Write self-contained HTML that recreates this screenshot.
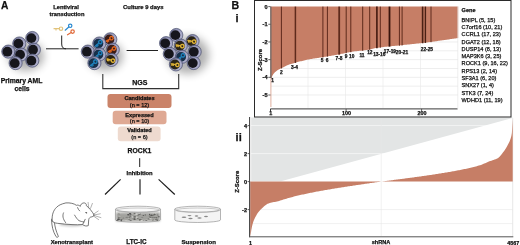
<!DOCTYPE html><html><head><meta charset="utf-8"><style>html,body{margin:0;padding:0;background:#fff;}svg{display:block;filter:blur(0.35px);} text{font-family:"Liberation Sans",sans-serif;stroke:#111;stroke-width:0.25px;}</style></head><body>
<svg width="520" height="245" viewBox="0 0 520 245">
<defs><radialGradient id="cg" cx="0.55" cy="0.55" r="0.6" fx="0.6" fy="0.6"><stop offset="0.55" stop-color="#acadca"/><stop offset="0.8" stop-color="#9294b6"/><stop offset="1" stop-color="#55597c"/></radialGradient><filter id="blur" x="-50%" y="-50%" width="200%" height="200%"><feGaussianBlur stdDeviation="4"/></filter><filter id="blur2" x="-50%" y="-50%" width="200%" height="200%"><feGaussianBlur stdDeviation="1.2"/></filter></defs>
<rect x="0" y="0" width="520" height="245" fill="#fff"/>
<text x="1" y="8.8" font-size="10.2" font-weight="bold" fill="#111">A</text>
<ellipse cx="26" cy="56" rx="18" ry="15" fill="#000" opacity="0.3" filter="url(#blur)"/>
<ellipse cx="105" cy="56" rx="18" ry="15" fill="#000" opacity="0.3" filter="url(#blur)"/>
<ellipse cx="188" cy="55" rx="21" ry="19" fill="#000" opacity="0.3" filter="url(#blur)"/>
<g stroke="#222" stroke-width="1" fill="none">
<path d="M46,48.8 L78.6,48.8"/>
<path d="M61.7,35.5 L61.7,44 Q61.7,48.8 66,48.8"/>
<path d="M126.6,50.5 L158,50.5"/>
<path d="M102.8,74 L102.8,88.6 L178.7,88.6 L178.7,74" stroke="#333" stroke-width="1.1"/>
</g>
<g fill="none" stroke-linecap="round" stroke-width="1.2">
<g stroke="#e2c47c"><line x1="54" y1="28.7" x2="59" y2="28.7"/><line x1="56" y1="28.7" x2="56" y2="30"/><circle cx="61" cy="28.7" r="1.7"/></g>
<g stroke="#2a8ad0"><line x1="65.2" y1="30.2" x2="68.8" y2="27"/><circle cx="70.2" cy="25.8" r="1.7"/></g>
<g stroke="#e06a3a"><line x1="67.5" y1="34.8" x2="71.2" y2="32.6"/><circle cx="72.6" cy="31.6" r="1.7"/></g>
</g>
<circle cx="32.3" cy="38" r="6.6" fill="url(#cg)" stroke="#4c5170" stroke-width="0.7"/><circle cx="31.4" cy="38.1" r="4.9" fill="#16161c"/>
<circle cx="19.3" cy="43.5" r="6.6" fill="url(#cg)" stroke="#4c5170" stroke-width="0.7"/><circle cx="18.4" cy="43.6" r="4.9" fill="#16161c"/>
<circle cx="33.9" cy="49.6" r="6.6" fill="url(#cg)" stroke="#4c5170" stroke-width="0.7"/><circle cx="33" cy="49.7" r="4.9" fill="#16161c"/>
<circle cx="8.3" cy="51.6" r="6.6" fill="url(#cg)" stroke="#4c5170" stroke-width="0.7"/><circle cx="7.4" cy="51.7" r="4.9" fill="#16161c"/>
<circle cx="21" cy="54.5" r="6.6" fill="url(#cg)" stroke="#4c5170" stroke-width="0.7"/><circle cx="20.1" cy="54.6" r="4.9" fill="#16161c"/>
<circle cx="32.3" cy="60.6" r="6.6" fill="url(#cg)" stroke="#4c5170" stroke-width="0.7"/><circle cx="31.4" cy="60.7" r="4.9" fill="#16161c"/>
<circle cx="15.6" cy="63.1" r="6.6" fill="url(#cg)" stroke="#4c5170" stroke-width="0.7"/><circle cx="14.7" cy="63.2" r="4.9" fill="#16161c"/>
<circle cx="110.3" cy="39.3" r="6.6" fill="url(#cg)" stroke="#4c5170" stroke-width="0.7"/><circle cx="109.4" cy="39.4" r="4.9" fill="#3a1d18"/><g transform="translate(109.4,39.4) rotate(-30)" stroke="#e0651f" stroke-width="1.4" fill="none" stroke-linecap="round"><circle cx="2.4" cy="0" r="1.7"/><line x1="-3.8" y1="0" x2="0.7" y2="0"/><line x1="-2.9" y1="0" x2="-2.9" y2="1.3"/><line x1="-1.6" y1="0" x2="-1.6" y2="1.2"/></g>
<circle cx="99.3" cy="43.5" r="6.6" fill="url(#cg)" stroke="#4c5170" stroke-width="0.7"/><circle cx="98.4" cy="43.6" r="4.9" fill="#17304a"/><g transform="translate(98.4,43.6) rotate(-40)" stroke="#1f7fb8" stroke-width="1.4" fill="none" stroke-linecap="round"><circle cx="2.4" cy="0" r="1.7"/><line x1="-3.8" y1="0" x2="0.7" y2="0"/><line x1="-2.9" y1="0" x2="-2.9" y2="1.3"/><line x1="-1.6" y1="0" x2="-1.6" y2="1.2"/></g>
<circle cx="112.8" cy="49.6" r="6.6" fill="url(#cg)" stroke="#4c5170" stroke-width="0.7"/><circle cx="111.9" cy="49.7" r="4.9" fill="#3a1d18"/><g transform="translate(111.9,49.7) rotate(-30)" stroke="#e0651f" stroke-width="1.4" fill="none" stroke-linecap="round"><circle cx="2.4" cy="0" r="1.7"/><line x1="-3.8" y1="0" x2="0.7" y2="0"/><line x1="-2.9" y1="0" x2="-2.9" y2="1.3"/><line x1="-1.6" y1="0" x2="-1.6" y2="1.2"/></g>
<circle cx="87.8" cy="51.6" r="6.6" fill="url(#cg)" stroke="#4c5170" stroke-width="0.7"/><circle cx="86.9" cy="51.7" r="4.9" fill="#16161c"/>
<circle cx="99.3" cy="54.5" r="6.6" fill="url(#cg)" stroke="#4c5170" stroke-width="0.7"/><circle cx="98.4" cy="54.6" r="4.9" fill="#17304a"/><g transform="translate(98.4,54.6) rotate(-40)" stroke="#1f7fb8" stroke-width="1.4" fill="none" stroke-linecap="round"><circle cx="2.4" cy="0" r="1.7"/><line x1="-3.8" y1="0" x2="0.7" y2="0"/><line x1="-2.9" y1="0" x2="-2.9" y2="1.3"/><line x1="-1.6" y1="0" x2="-1.6" y2="1.2"/></g>
<circle cx="111.5" cy="59.9" r="6.6" fill="url(#cg)" stroke="#4c5170" stroke-width="0.7"/><circle cx="110.6" cy="60" r="4.9" fill="#2a2416"/><g transform="translate(110.6,60) rotate(15)" stroke="#dcb035" stroke-width="1.4" fill="none" stroke-linecap="round"><circle cx="2.4" cy="0" r="1.7"/><line x1="-3.8" y1="0" x2="0.7" y2="0"/><line x1="-2.9" y1="0" x2="-2.9" y2="1.3"/><line x1="-1.6" y1="0" x2="-1.6" y2="1.2"/></g>
<circle cx="94.4" cy="63.1" r="6.6" fill="url(#cg)" stroke="#4c5170" stroke-width="0.7"/><circle cx="93.5" cy="63.2" r="4.9" fill="#17304a"/><g transform="translate(93.5,63.2) rotate(-40)" stroke="#1f7fb8" stroke-width="1.4" fill="none" stroke-linecap="round"><circle cx="2.4" cy="0" r="1.7"/><line x1="-3.8" y1="0" x2="0.7" y2="0"/><line x1="-2.9" y1="0" x2="-2.9" y2="1.3"/><line x1="-1.6" y1="0" x2="-1.6" y2="1.2"/></g>
<circle cx="176.3" cy="35" r="6.6" fill="url(#cg)" stroke="#4c5170" stroke-width="0.7"/><circle cx="175.4" cy="35.1" r="4.9" fill="#16161c"/>
<circle cx="166.1" cy="43.2" r="6.6" fill="url(#cg)" stroke="#4c5170" stroke-width="0.7"/><circle cx="165.2" cy="43.3" r="4.9" fill="#16161c"/>
<circle cx="192.6" cy="41.1" r="6.6" fill="url(#cg)" stroke="#4c5170" stroke-width="0.7"/><circle cx="191.7" cy="41.2" r="4.9" fill="#2a2416"/><g transform="translate(191.7,41.2) rotate(10)" stroke="#dcb035" stroke-width="1.4" fill="none" stroke-linecap="round"><circle cx="2.4" cy="0" r="1.7"/><line x1="-3.8" y1="0" x2="0.7" y2="0"/><line x1="-2.9" y1="0" x2="-2.9" y2="1.3"/><line x1="-1.6" y1="0" x2="-1.6" y2="1.2"/></g>
<circle cx="180.8" cy="45.6" r="6.6" fill="url(#cg)" stroke="#4c5170" stroke-width="0.7"/><circle cx="179.9" cy="45.7" r="4.9" fill="#2a2416"/><g transform="translate(179.9,45.7) rotate(10)" stroke="#dcb035" stroke-width="1.4" fill="none" stroke-linecap="round"><circle cx="2.4" cy="0" r="1.7"/><line x1="-3.8" y1="0" x2="0.7" y2="0"/><line x1="-2.9" y1="0" x2="-2.9" y2="1.3"/><line x1="-1.6" y1="0" x2="-1.6" y2="1.2"/></g>
<circle cx="169.8" cy="53.8" r="6.6" fill="url(#cg)" stroke="#4c5170" stroke-width="0.7"/><circle cx="168.9" cy="53.9" r="4.9" fill="#16161c"/>
<circle cx="194.7" cy="51.7" r="6.6" fill="url(#cg)" stroke="#4c5170" stroke-width="0.7"/><circle cx="193.8" cy="51.8" r="4.9" fill="#16161c"/>
<circle cx="182" cy="56.8" r="6.6" fill="url(#cg)" stroke="#4c5170" stroke-width="0.7"/><circle cx="181.1" cy="56.9" r="4.9" fill="#17304a"/><g transform="translate(181.1,56.9) rotate(-40)" stroke="#1f7fb8" stroke-width="1.4" fill="none" stroke-linecap="round"><circle cx="2.4" cy="0" r="1.7"/><line x1="-3.8" y1="0" x2="0.7" y2="0"/><line x1="-2.9" y1="0" x2="-2.9" y2="1.3"/><line x1="-1.6" y1="0" x2="-1.6" y2="1.2"/></g>
<circle cx="175.9" cy="64.4" r="6.6" fill="url(#cg)" stroke="#4c5170" stroke-width="0.7"/><circle cx="175" cy="64.5" r="4.9" fill="#2a2416"/><g transform="translate(175,64.5) rotate(10)" stroke="#dcb035" stroke-width="1.4" fill="none" stroke-linecap="round"><circle cx="2.4" cy="0" r="1.7"/><line x1="-3.8" y1="0" x2="0.7" y2="0"/><line x1="-2.9" y1="0" x2="-2.9" y2="1.3"/><line x1="-1.6" y1="0" x2="-1.6" y2="1.2"/></g>
<circle cx="193.7" cy="63" r="6.6" fill="url(#cg)" stroke="#4c5170" stroke-width="0.7"/><circle cx="192.8" cy="63.1" r="4.9" fill="#16161c"/>
<text x="21.5" y="83.3" font-size="6.8" text-anchor="middle" font-weight="bold" fill="#111" >Primary AML</text>
<text x="22" y="91.4" font-size="6.8" text-anchor="middle" font-weight="bold" fill="#111" >cells</text>
<text x="66" y="9.2" font-size="5.75" text-anchor="middle" font-weight="bold" fill="#111" >Lentiviral</text>
<text x="67" y="15.9" font-size="5.75" text-anchor="middle" font-weight="bold" fill="#111" >transduction</text>
<text x="143.3" y="9.4" font-size="5.86" text-anchor="middle" font-weight="bold" fill="#111" >Culture 9 days</text>
<text x="139.8" y="84.5" font-size="7" text-anchor="middle" font-weight="bold" fill="#111" >NGS</text>
<rect x="107.5" y="93.9" width="64" height="14.2" rx="3" fill="#ca8369"/>
<rect x="112.7" y="110.7" width="53.8" height="13.5" rx="3" fill="#dfa994"/>
<rect x="117.8" y="126.6" width="42.8" height="14.6" rx="3" fill="#eedacf"/>
<text x="139.5" y="100.2" font-size="5.6" text-anchor="middle" font-weight="bold" fill="#111" >Candidates</text>
<text x="139.5" y="106.5" font-size="5.6" text-anchor="middle" font-weight="normal" fill="#111" >(n = 12)</text>
<text x="139.5" y="116.6" font-size="5.6" text-anchor="middle" font-weight="bold" fill="#111" >Expressed</text>
<text x="139.5" y="123.1" font-size="5.6" text-anchor="middle" font-weight="normal" fill="#111" >(n = 10)</text>
<text x="139.5" y="132.3" font-size="5.6" text-anchor="middle" font-weight="bold" fill="#111" >Validated</text>
<text x="139.5" y="138.8" font-size="5.6" text-anchor="middle" font-weight="normal" fill="#111" >(n = 6)</text>
<text x="139.5" y="153" font-size="6.8" text-anchor="middle" font-weight="bold" fill="#111" >ROCK1</text>
<line x1="139.7" y1="158.2" x2="139.7" y2="167" stroke="#222" stroke-width="1"/>
<text x="139.6" y="175" font-size="5.8" text-anchor="middle" font-weight="bold" fill="#111" >Inhibition</text>
<g stroke="#1a1a1a" stroke-width="1.15"><line x1="120.6" y1="179.4" x2="105" y2="194.5"/><line x1="140" y1="179.3" x2="140" y2="194.6"/><line x1="158.6" y1="179.4" x2="174.8" y2="194.5"/></g>
<g stroke="#858585" stroke-width="0.6"><path d="M115.5,209.2 L115.5,219.7 A22.5,2.6 0 0 0 160.5,219.7 L160.5,209.2 Z" fill="#f4f4f4"/><g><rect x="116" y="212.6" width="44" height="8.6" fill="#a2a29e" stroke="none" filter="url(#blur2)"/><ellipse cx="126.99" cy="217.34" rx="1.52" ry="0.49" fill="#7a7a76" stroke="none"/><ellipse cx="141.4" cy="217.8" rx="0.86" ry="0.39" fill="#c8c8c4" stroke="none"/><ellipse cx="158.82" cy="216.77" rx="1.08" ry="0.56" fill="#505050" stroke="none"/><ellipse cx="123.33" cy="218.02" rx="0.99" ry="0.31" fill="#505050" stroke="none"/><ellipse cx="149.64" cy="214.41" rx="0.64" ry="0.61" fill="#505050" stroke="none"/><ellipse cx="151.59" cy="215.25" rx="1.32" ry="0.65" fill="#505050" stroke="none"/><ellipse cx="146.99" cy="220.2" rx="1.33" ry="0.53" fill="#c8c8c4" stroke="none"/><ellipse cx="157.49" cy="214.22" rx="0.7" ry="0.35" fill="#7a7a76" stroke="none"/><ellipse cx="126.11" cy="220.54" rx="1.38" ry="0.64" fill="#c8c8c4" stroke="none"/><ellipse cx="134.69" cy="219.53" rx="0.95" ry="0.53" fill="#505050" stroke="none"/><ellipse cx="141.54" cy="220.07" rx="1.52" ry="0.31" fill="#dadad6" stroke="none"/><ellipse cx="128.75" cy="217.8" rx="0.76" ry="0.64" fill="#dadad6" stroke="none"/><ellipse cx="157.51" cy="220.08" rx="0.7" ry="0.56" fill="#505050" stroke="none"/><ellipse cx="143.58" cy="220.71" rx="0.88" ry="0.33" fill="#7a7a76" stroke="none"/><ellipse cx="152.87" cy="220.72" rx="0.94" ry="0.33" fill="#5e5e5a" stroke="none"/><ellipse cx="154.68" cy="213.35" rx="1.37" ry="0.65" fill="#c8c8c4" stroke="none"/><ellipse cx="118.86" cy="217.87" rx="0.98" ry="0.53" fill="#5e5e5a" stroke="none"/><ellipse cx="140.14" cy="220.21" rx="1.11" ry="0.7" fill="#7a7a76" stroke="none"/><ellipse cx="130.01" cy="213.78" rx="1.14" ry="0.68" fill="#505050" stroke="none"/><ellipse cx="157.8" cy="215.42" rx="0.76" ry="0.32" fill="#7a7a76" stroke="none"/><ellipse cx="153.45" cy="215.59" rx="1.5" ry="0.45" fill="#6d6d68" stroke="none"/><ellipse cx="136.34" cy="217.15" rx="1.47" ry="0.57" fill="#dadad6" stroke="none"/><ellipse cx="121.31" cy="220.59" rx="0.87" ry="0.55" fill="#505050" stroke="none"/><ellipse cx="147.06" cy="220.32" rx="1.58" ry="0.51" fill="#c8c8c4" stroke="none"/><ellipse cx="140.03" cy="213.29" rx="1.59" ry="0.43" fill="#c8c8c4" stroke="none"/><ellipse cx="132.81" cy="217.68" rx="0.66" ry="0.55" fill="#6d6d68" stroke="none"/><ellipse cx="136.58" cy="218.36" rx="1.21" ry="0.41" fill="#7a7a76" stroke="none"/><ellipse cx="137.56" cy="217.68" rx="0.62" ry="0.45" fill="#dadad6" stroke="none"/><ellipse cx="143.37" cy="215.47" rx="0.92" ry="0.45" fill="#505050" stroke="none"/><ellipse cx="130.13" cy="216.01" rx="0.86" ry="0.61" fill="#505050" stroke="none"/><ellipse cx="121.4" cy="219.38" rx="1.28" ry="0.35" fill="#505050" stroke="none"/><ellipse cx="138" cy="218.17" rx="0.84" ry="0.37" fill="#7a7a76" stroke="none"/><ellipse cx="135.28" cy="218.51" rx="1.2" ry="0.68" fill="#5e5e5a" stroke="none"/><ellipse cx="145.35" cy="214.91" rx="0.68" ry="0.6" fill="#6d6d68" stroke="none"/><ellipse cx="126.16" cy="217.52" rx="0.83" ry="0.35" fill="#7a7a76" stroke="none"/><ellipse cx="139.24" cy="214.65" rx="0.78" ry="0.41" fill="#505050" stroke="none"/><ellipse cx="150.9" cy="218.08" rx="0.95" ry="0.35" fill="#505050" stroke="none"/><ellipse cx="129.26" cy="219.23" rx="1.06" ry="0.55" fill="#7a7a76" stroke="none"/><ellipse cx="129.2" cy="217.52" rx="1.52" ry="0.36" fill="#5e5e5a" stroke="none"/><ellipse cx="117.2" cy="220.37" rx="1.59" ry="0.47" fill="#505050" stroke="none"/><ellipse cx="156.91" cy="220.25" rx="0.63" ry="0.48" fill="#6d6d68" stroke="none"/><ellipse cx="148.64" cy="218.88" rx="1.14" ry="0.66" fill="#7a7a76" stroke="none"/><ellipse cx="153.18" cy="219.72" rx="0.72" ry="0.4" fill="#7a7a76" stroke="none"/><ellipse cx="118.48" cy="219.3" rx="1.52" ry="0.66" fill="#505050" stroke="none"/><ellipse cx="154.79" cy="217.58" rx="1.08" ry="0.35" fill="#5e5e5a" stroke="none"/><ellipse cx="138.13" cy="215.02" rx="1.12" ry="0.47" fill="#5e5e5a" stroke="none"/><ellipse cx="156.44" cy="217.85" rx="0.73" ry="0.69" fill="#7a7a76" stroke="none"/><ellipse cx="139.72" cy="219.37" rx="0.95" ry="0.38" fill="#5e5e5a" stroke="none"/><ellipse cx="139.45" cy="219.41" rx="0.84" ry="0.41" fill="#6d6d68" stroke="none"/><ellipse cx="154.36" cy="214.18" rx="1.09" ry="0.53" fill="#5e5e5a" stroke="none"/><ellipse cx="133.81" cy="218.95" rx="0.87" ry="0.51" fill="#6d6d68" stroke="none"/><ellipse cx="134.77" cy="216.79" rx="1.46" ry="0.61" fill="#5e5e5a" stroke="none"/><ellipse cx="118.94" cy="213.58" rx="1.57" ry="0.64" fill="#c8c8c4" stroke="none"/><ellipse cx="120.62" cy="217.02" rx="0.76" ry="0.33" fill="#7a7a76" stroke="none"/><ellipse cx="133.2" cy="216.16" rx="0.96" ry="0.38" fill="#7a7a76" stroke="none"/><ellipse cx="130.81" cy="214.14" rx="0.6" ry="0.59" fill="#505050" stroke="none"/><ellipse cx="150.4" cy="217.51" rx="0.97" ry="0.54" fill="#5e5e5a" stroke="none"/><ellipse cx="149.87" cy="216.09" rx="1.22" ry="0.47" fill="#5e5e5a" stroke="none"/><ellipse cx="132.64" cy="216.97" rx="0.91" ry="0.68" fill="#dadad6" stroke="none"/><ellipse cx="134.57" cy="213.34" rx="1.14" ry="0.58" fill="#6d6d68" stroke="none"/><ellipse cx="120.01" cy="216.43" rx="0.73" ry="0.31" fill="#c8c8c4" stroke="none"/><ellipse cx="130.67" cy="220.56" rx="1.39" ry="0.4" fill="#505050" stroke="none"/><ellipse cx="136.49" cy="214.14" rx="1.26" ry="0.65" fill="#dadad6" stroke="none"/><ellipse cx="150.28" cy="218.27" rx="0.92" ry="0.51" fill="#dadad6" stroke="none"/><ellipse cx="151.09" cy="218.65" rx="0.74" ry="0.61" fill="#c8c8c4" stroke="none"/><ellipse cx="118.86" cy="213.9" rx="1.26" ry="0.45" fill="#5e5e5a" stroke="none"/><ellipse cx="151.42" cy="215.8" rx="0.63" ry="0.35" fill="#5e5e5a" stroke="none"/><ellipse cx="137.24" cy="218.49" rx="1.18" ry="0.62" fill="#7a7a76" stroke="none"/><ellipse cx="118.52" cy="219.03" rx="1.13" ry="0.4" fill="#505050" stroke="none"/><ellipse cx="140.29" cy="213.96" rx="0.66" ry="0.43" fill="#505050" stroke="none"/><ellipse cx="140.69" cy="219.49" rx="1.6" ry="0.56" fill="#6d6d68" stroke="none"/><ellipse cx="136.07" cy="218.52" rx="0.85" ry="0.54" fill="#c8c8c4" stroke="none"/><ellipse cx="156.43" cy="217.43" rx="0.98" ry="0.39" fill="#5e5e5a" stroke="none"/><ellipse cx="156.04" cy="219.61" rx="1.02" ry="0.53" fill="#6d6d68" stroke="none"/><ellipse cx="141.35" cy="220.22" rx="1.08" ry="0.56" fill="#dadad6" stroke="none"/><ellipse cx="154.69" cy="214.33" rx="1.1" ry="0.49" fill="#5e5e5a" stroke="none"/><ellipse cx="146.34" cy="220.43" rx="1.32" ry="0.37" fill="#505050" stroke="none"/><ellipse cx="128.23" cy="214.71" rx="1.12" ry="0.67" fill="#505050" stroke="none"/><ellipse cx="152.76" cy="217.29" rx="1.27" ry="0.64" fill="#7a7a76" stroke="none"/><ellipse cx="142" cy="217.64" rx="1.49" ry="0.42" fill="#7a7a76" stroke="none"/></g><ellipse cx="138" cy="209.2" rx="22.5" ry="3" fill="#f8f8f8"/><ellipse cx="138" cy="210.2" rx="21.3" ry="2.2" fill="none" stroke="#aaa"/></g>
<g stroke="#858585" stroke-width="0.6"><path d="M174.8,209.2 L174.8,219.9 A22.85,2.6 0 0 0 220.5,219.9 L220.5,209.2 Z" fill="#f4f4f4"/><g fill="#8a8a8a" stroke="none"><ellipse cx="184" cy="217.3" rx="2.4" ry="0.8"/><ellipse cx="189.5" cy="215.6" rx="2" ry="0.7"/><ellipse cx="190.5" cy="218.5" rx="2.2" ry="0.8"/><ellipse cx="196.5" cy="216" rx="1.8" ry="0.7"/><ellipse cx="199.5" cy="218" rx="2.2" ry="0.8"/><ellipse cx="206" cy="216.5" rx="2" ry="0.7"/></g><ellipse cx="197.65" cy="209.2" rx="22.85" ry="3" fill="#f8f8f8"/><ellipse cx="197.65" cy="210.2" rx="21.65" ry="2.2" fill="none" stroke="#aaa"/></g>
<text x="136.4" y="243.5" font-size="6.3" text-anchor="middle" font-weight="bold" fill="#111" >LTC-IC</text>
<text x="198.7" y="243.7" font-size="6.1" text-anchor="middle" font-weight="bold" fill="#111" >Suspension</text>
<text x="71.8" y="243.8" font-size="5.8" text-anchor="middle" font-weight="bold" fill="#111" >Xenotransplant</text>
<ellipse cx="72" cy="224.6" rx="13" ry="1.8" fill="#000" opacity="0.22" filter="url(#blur2)"/>
<g fill="#fff" stroke="#555" stroke-width="0.8" stroke-linejoin="round" stroke-linecap="round">
<path d="M51.6,219.5 C51.6,226 53,231.5 56,236.6 C56.8,237.6 58.3,237.3 58.4,236.4 C56.2,231.5 54.6,226.5 54.4,221.5 Z"/>
<path d="M52.2,221 C51.6,215 53.5,210 56.7,207.2 C58.5,205.3 61,204.1 65.9,202.9 C70,202.6 74,203.5 76.4,205.3 C77.3,204.8 79.3,205.2 80.3,206.4 C80.6,204.6 81.6,203.4 83.2,203 C85,202.5 86.8,203.8 86.3,205.6 C89,207.5 92,211.5 94.2,215 C93.8,216.4 92.2,216.8 90.6,217.1 C89.3,217.7 88.6,219 88.6,221 L88.3,225.6 C86.6,226.4 84.2,226 82.6,224.5 C79,224.8 76,224.9 72,224.6 C67,224.3 62,223.9 57.3,223.3 C55,223 53,222.4 52.2,221 Z"/>
<path d="M63.5,212.9 C62.4,215.5 62.6,218.5 65.6,222.6 M74.6,215.1 C76,217.5 77.5,219.6 78.9,220.6 C80.5,221.3 82,221.7 84,222 M85.2,219.3 L82.8,224.2 M77.6,207.6 C78,208.7 78.6,210.1 79.6,210.9" fill="none"/>
<path d="M88.1,202.4 L88.7,207.8 M92.4,203.4 L90.5,208.4 M94,215 L100.3,213.8 M94,215.5 L100.9,217.6 M93.4,216 L98.6,219.6 M93.4,214.3 L98.2,211" fill="none" stroke-width="0.45"/>
<ellipse cx="86.3" cy="212.7" rx="1" ry="0.6" transform="rotate(20 86.3 212.7)" fill="#333" stroke="none"/>
</g>
<text x="231.5" y="8.9" font-size="10.6" font-weight="bold" fill="#111">B</text>
<text x="235.4" y="21.5" font-size="11" font-weight="bold" fill="#111">i</text>
<text x="235.6" y="140.6" font-size="11" font-weight="bold" fill="#111">ii</text>
<path d="M251.2,117.5 L512.5,117.5 L512.5,118 L281,181.2 L251.2,181.2 Z" fill="#e3e5e5"/>
<line x1="251" y1="125.6" x2="512.5" y2="125.6" stroke="#fff" stroke-width="0.8" opacity="0.7"/>
<line x1="251" y1="153.6" x2="512.5" y2="153.6" stroke="#fff" stroke-width="0.8" opacity="0.7"/>
<line x1="251" y1="209.6" x2="512.5" y2="209.6" stroke="#e6e6e6" stroke-width="0.6"/>
<line x1="251" y1="223.6" x2="512.5" y2="223.6" stroke="#e6e6e6" stroke-width="0.6"/>
<line x1="381.2" y1="118" x2="381.2" y2="236" stroke="#e8e8e8" stroke-width="0.6"/>
<line x1="512.7" y1="118" x2="512.7" y2="236.5" stroke="#d8d8d8" stroke-width="0.6"/>
<path d="M250.2,181.6 L250.2,236.6 L250.3,235.84 L250.45,235.22 L250.59,234.54 L250.74,233.76 L250.88,232.86 L251.03,231.9 L251.18,230.93 L251.32,230 L251.47,229.16 L251.62,228.42 L251.76,227.69 L251.91,226.99 L252.05,226.32 L252.2,225.67 L252.35,225.04 L252.49,224.46 L252.64,223.9 L252.78,223.38 L252.93,222.9 L253.08,222.45 L253.22,222.01 L253.37,221.6 L253.52,221.2 L253.66,220.81 L253.81,220.44 L253.95,220.08 L254.1,219.74 L254.25,219.4 L254.39,219.07 L254.54,218.76 L254.68,218.45 L254.83,218.14 L254.98,217.85 L255.12,217.55 L255.27,217.26 L255.42,216.98 L255.56,216.7 L255.71,216.42 L255.85,216.15 L256,215.88 L257.05,214.09 L258.1,212.53 L259.15,211.19 L260.2,209.99 L261.25,208.9 L262.3,207.9 L263.35,206.98 L264.4,206.09 L265.45,205.22 L266.5,204.42 L267.55,203.8 L268.61,203.38 L269.66,203.04 L270.71,202.76 L271.76,202.51 L272.81,202.29 L273.86,202.09 L274.91,201.89 L275.96,201.68 L277.01,201.45 L278.06,201.18 L279.11,200.89 L280.16,200.59 L281.21,200.27 L282.26,199.95 L283.31,199.62 L284.36,199.28 L285.41,198.96 L286.46,198.64 L287.51,198.32 L288.56,198.02 L289.61,197.73 L290.66,197.44 L291.71,197.16 L292.76,196.88 L293.82,196.61 L294.87,196.35 L295.92,196.09 L296.97,195.83 L298.02,195.58 L299.07,195.33 L300.12,195.09 L301.17,194.85 L302.22,194.61 L303.27,194.38 L304.32,194.15 L305.37,193.93 L306.42,193.7 L307.47,193.48 L308.52,193.27 L309.57,193.05 L310.62,192.84 L311.67,192.63 L312.72,192.43 L313.77,192.22 L314.82,192.02 L315.87,191.82 L316.92,191.62 L317.97,191.43 L319.03,191.23 L320.08,191.04 L321.13,190.85 L322.18,190.66 L323.23,190.47 L324.28,190.29 L325.33,190.11 L326.38,189.92 L327.43,189.74 L328.48,189.56 L329.53,189.39 L330.58,189.21 L331.63,189.03 L332.68,188.86 L333.73,188.69 L334.78,188.51 L335.83,188.34 L336.88,188.17 L337.93,188 L338.98,187.84 L340.03,187.67 L341.08,187.5 L342.13,187.34 L343.18,187.17 L344.24,187.01 L345.29,186.85 L346.34,186.69 L347.39,186.52 L348.44,186.36 L349.49,186.2 L350.54,186.05 L351.59,185.89 L352.64,185.73 L353.69,185.57 L354.74,185.41 L355.79,185.26 L356.84,185.1 L357.89,184.95 L358.94,184.79 L359.99,184.64 L361.04,184.48 L362.09,184.33 L363.14,184.17 L364.19,184.02 L365.24,183.87 L366.29,183.72 L367.34,183.56 L368.39,183.41 L369.45,183.26 L370.5,183.11 L371.55,182.96 L372.6,182.81 L373.65,182.65 L374.7,182.5 L375.75,182.35 L376.8,182.2 L377.85,182.05 L378.9,181.9 L379.95,181.75 L381,181.6 L381,181.6 Z" fill="#c67e66"/>
<path d="M381,181.6 L381,181.6 L382.04,181.46 L383.08,181.33 L384.13,181.2 L385.17,181.07 L386.21,180.94 L387.25,180.8 L388.29,180.67 L389.34,180.54 L390.38,180.4 L391.42,180.27 L392.46,180.13 L393.5,180 L394.55,179.87 L395.59,179.73 L396.63,179.6 L397.67,179.46 L398.71,179.33 L399.76,179.19 L400.8,179.06 L401.84,178.92 L402.88,178.78 L403.92,178.65 L404.97,178.51 L406.01,178.37 L407.05,178.23 L408.09,178.1 L409.13,177.96 L410.18,177.82 L411.22,177.68 L412.26,177.54 L413.3,177.4 L414.34,177.25 L415.39,177.11 L416.43,176.97 L417.47,176.83 L418.51,176.68 L419.55,176.54 L420.6,176.39 L421.64,176.25 L422.68,176.1 L423.72,175.95 L424.76,175.8 L425.81,175.65 L426.85,175.5 L427.89,175.35 L428.93,175.2 L429.97,175.05 L431.02,174.89 L432.06,174.74 L433.1,174.58 L434.14,174.42 L435.18,174.26 L436.23,174.1 L437.27,173.94 L438.31,173.78 L439.35,173.62 L440.39,173.45 L441.44,173.28 L442.48,173.11 L443.52,172.94 L444.56,172.77 L445.61,172.6 L446.65,172.42 L447.69,172.25 L448.73,172.07 L449.77,171.89 L450.82,171.7 L451.86,171.52 L452.9,171.33 L453.94,171.14 L454.98,170.95 L456.03,170.76 L457.07,170.56 L458.11,170.36 L459.15,170.16 L460.19,169.95 L461.24,169.74 L462.28,169.53 L463.32,169.32 L464.36,169.1 L465.4,168.88 L466.45,168.65 L467.49,168.42 L468.53,168.19 L469.57,167.95 L470.61,167.71 L471.66,167.46 L472.7,167.2 L473.74,166.95 L474.78,166.68 L475.82,166.41 L476.87,166.15 L477.91,165.87 L478.95,165.58 L479.99,165.26 L481.03,164.9 L482.08,164.5 L483.12,164.07 L484.16,163.62 L485.2,163.15 L486.24,162.69 L487.29,162.22 L488.33,161.78 L489.37,161.35 L490.41,160.98 L491.45,160.63 L492.5,160.3 L493.54,159.96 L494.58,159.6 L495.62,159.19 L496.66,158.72 L497.71,158.17 L498.75,157.47 L499.79,156.49 L500.83,155.3 L501.87,153.98 L502.92,152.58 L503.96,151.18 L505,149.68 L505.13,149.48 L505.26,149.28 L505.39,149.08 L505.52,148.88 L505.65,148.68 L505.78,148.47 L505.91,148.26 L506.04,148.05 L506.17,147.83 L506.31,147.62 L506.44,147.4 L506.57,147.18 L506.7,146.95 L506.83,146.73 L506.96,146.5 L507.09,146.27 L507.22,146.04 L507.35,145.8 L507.48,145.57 L507.61,145.32 L507.74,145.08 L507.87,144.84 L508,144.59 L508.13,144.34 L508.26,144.09 L508.39,143.83 L508.52,143.58 L508.65,143.33 L508.78,143.07 L508.92,142.8 L509.05,142.53 L509.18,142.26 L509.31,141.98 L509.44,141.69 L509.57,141.39 L509.7,141.08 L509.83,140.76 L509.96,140.42 L510.09,140.08 L510.22,139.72 L510.35,139.35 L510.48,138.96 L510.61,138.56 L510.74,138.17 L510.87,137.77 L511,137.34 L511.13,136.88 L511.26,136.36 L511.39,135.78 L511.53,135.12 L511.66,134.36 L511.79,133.5 L511.92,132.22 L512.05,130.3 L512.18,128.07 L512.31,125.86 L512.44,123.69 L512.57,121.4 L512.7,119 L512.7,118.5 L512.7,181.6 Z" fill="#c67e66"/>
<line x1="249.6" y1="117" x2="249.6" y2="237.2" stroke="#3a3a3a" stroke-width="1"/>
<line x1="249.1" y1="236.8" x2="513.3" y2="236.8" stroke="#555" stroke-width="1"/>
<line x1="247.6" y1="125.6" x2="249.6" y2="125.6" stroke="#3a3a3a" stroke-width="0.8"/>
<text x="247" y="127.6" font-size="5.6" text-anchor="end" font-weight="bold" fill="#111" >4</text>
<line x1="247.6" y1="153.6" x2="249.6" y2="153.6" stroke="#3a3a3a" stroke-width="0.8"/>
<text x="247" y="155.6" font-size="5.6" text-anchor="end" font-weight="bold" fill="#111" >2</text>
<line x1="247.6" y1="181.6" x2="249.6" y2="181.6" stroke="#3a3a3a" stroke-width="0.8"/>
<text x="247" y="183.6" font-size="5.6" text-anchor="end" font-weight="bold" fill="#111" >0</text>
<line x1="247.6" y1="209.6" x2="249.6" y2="209.6" stroke="#3a3a3a" stroke-width="0.8"/>
<text x="247" y="211.6" font-size="5.6" text-anchor="end" font-weight="bold" fill="#111" >-2</text>
<text x="239.5" y="181.8" font-size="5.9" text-anchor="middle" font-weight="bold" fill="#111" transform="rotate(-90 239.5 181.8)">Z-Score</text>
<text x="250.5" y="244.6" font-size="5.4" text-anchor="middle" font-weight="bold" fill="#111" >1</text>
<text x="381" y="244.4" font-size="5.6" text-anchor="middle" font-weight="bold" fill="#111" >shRNA</text>
<text x="513.2" y="244.6" font-size="5.4" text-anchor="middle" font-weight="bold" fill="#111" >4567</text>
<rect x="254.5" y="0.5" width="256.5" height="116.5" fill="#fff" stroke="#2a2a2a" stroke-width="1"/>
<line x1="271" y1="15.44" x2="458" y2="15.44" stroke="#e6e6e6" stroke-width="0.7"/>
<line x1="271" y1="24.28" x2="458" y2="24.28" stroke="#e6e6e6" stroke-width="0.7"/>
<line x1="271" y1="33.12" x2="458" y2="33.12" stroke="#e6e6e6" stroke-width="0.7"/>
<line x1="271" y1="41.96" x2="458" y2="41.96" stroke="#e6e6e6" stroke-width="0.7"/>
<line x1="271" y1="50.8" x2="458" y2="50.8" stroke="#e6e6e6" stroke-width="0.7"/>
<line x1="271" y1="59.64" x2="458" y2="59.64" stroke="#e6e6e6" stroke-width="0.7"/>
<line x1="271" y1="68.48" x2="458" y2="68.48" stroke="#e6e6e6" stroke-width="0.7"/>
<line x1="271" y1="77.32" x2="458" y2="77.32" stroke="#e6e6e6" stroke-width="0.7"/>
<line x1="271" y1="86.16" x2="458" y2="86.16" stroke="#e6e6e6" stroke-width="0.7"/>
<line x1="271" y1="95" x2="458" y2="95" stroke="#e6e6e6" stroke-width="0.7"/>
<line x1="308" y1="6" x2="308" y2="108" stroke="#e8e8e8" stroke-width="0.6"/>
<line x1="345.5" y1="6" x2="345.5" y2="108" stroke="#e8e8e8" stroke-width="0.6"/>
<line x1="383" y1="6" x2="383" y2="108" stroke="#e8e8e8" stroke-width="0.6"/>
<line x1="420.5" y1="6" x2="420.5" y2="108" stroke="#e8e8e8" stroke-width="0.6"/>
<path d="M271.2,6.6 L271.2,84 L271.2,80 L272.14,76.14 L273.08,74.49 L274.02,73.18 L274.96,72.21 L275.9,71.4 L276.84,70.71 L277.78,70.1 L278.72,69.57 L279.66,69.08 L280.6,68.61 L281.54,68.12 L282.48,67.63 L283.42,67.14 L284.36,66.65 L285.3,66.19 L286.24,65.75 L287.17,65.33 L288.11,64.96 L289.05,64.61 L289.99,64.28 L290.93,63.98 L291.87,63.68 L292.81,63.4 L293.75,63.13 L294.69,62.86 L295.63,62.59 L296.57,62.33 L297.51,62.08 L298.45,61.84 L299.39,61.6 L300.33,61.36 L301.27,61.13 L302.21,60.9 L303.15,60.67 L304.09,60.44 L305.03,60.22 L305.97,60 L306.91,59.79 L307.85,59.59 L308.79,59.4 L309.73,59.23 L310.67,59.06 L311.61,58.9 L312.55,58.75 L313.49,58.6 L314.43,58.45 L315.37,58.31 L316.31,58.17 L317.25,58.03 L318.18,57.89 L319.12,57.75 L320.06,57.61 L321,57.46 L321.94,57.31 L322.88,57.15 L323.82,57 L324.76,56.84 L325.7,56.69 L326.64,56.53 L327.58,56.37 L328.52,56.22 L329.46,56.06 L330.4,55.9 L331.34,55.74 L332.28,55.58 L333.22,55.41 L334.16,55.25 L335.1,55.08 L336.04,54.92 L336.98,54.75 L337.92,54.57 L338.86,54.4 L339.8,54.22 L340.74,54.04 L341.68,53.84 L342.62,53.64 L343.56,53.44 L344.5,53.23 L345.44,53.02 L346.38,52.82 L347.32,52.62 L348.26,52.42 L349.19,52.24 L350.13,52.06 L351.07,51.9 L352.01,51.75 L352.95,51.62 L353.89,51.49 L354.83,51.37 L355.77,51.26 L356.71,51.15 L357.65,51.05 L358.59,50.95 L359.53,50.85 L360.47,50.75 L361.41,50.65 L362.35,50.55 L363.29,50.45 L364.23,50.33 L365.17,50.21 L366.11,50.09 L367.05,49.95 L367.99,49.8 L368.93,49.63 L369.87,49.42 L370.81,49.2 L371.75,48.96 L372.69,48.72 L373.63,48.48 L374.57,48.27 L375.51,48.08 L376.45,47.93 L377.39,47.79 L378.33,47.65 L379.27,47.52 L380.21,47.4 L381.14,47.28 L382.08,47.16 L383.02,47.05 L383.96,46.95 L384.9,46.84 L385.84,46.74 L386.78,46.64 L387.72,46.55 L388.66,46.45 L389.6,46.36 L390.54,46.27 L391.48,46.18 L392.42,46.09 L393.36,46.01 L394.3,45.92 L395.24,45.83 L396.18,45.74 L397.12,45.65 L398.06,45.56 L399,45.46 L399.94,45.37 L400.88,45.27 L401.82,45.17 L402.76,45.06 L403.7,44.96 L404.64,44.87 L405.58,44.77 L406.52,44.67 L407.46,44.57 L408.4,44.48 L409.34,44.38 L410.28,44.28 L411.22,44.19 L412.15,44.09 L413.09,43.99 L414.03,43.89 L414.97,43.8 L415.91,43.7 L416.85,43.6 L417.79,43.5 L418.73,43.39 L419.67,43.29 L420.61,43.19 L421.55,43.08 L422.49,42.97 L423.43,42.86 L424.37,42.75 L425.31,42.64 L426.25,42.52 L427.19,42.4 L428.13,42.28 L429.07,42.16 L430.01,42.04 L430.95,41.92 L431.89,41.79 L432.83,41.66 L433.77,41.53 L434.71,41.4 L435.65,41.27 L436.59,41.14 L437.53,41.01 L438.47,40.87 L439.41,40.74 L440.35,40.6 L441.29,40.47 L442.23,40.33 L443.16,40.2 L444.1,40.06 L445.04,39.92 L445.98,39.79 L446.92,39.65 L447.86,39.52 L448.8,39.38 L449.74,39.25 L450.68,39.11 L451.62,38.98 L452.56,38.84 L453.5,38.7 L454.44,38.56 L455.38,38.42 L456.32,38.28 L457.26,38.14 L458.2,38 L458.2,6.6 Z" fill="#c67e66"/>
<line x1="281.4" y1="6.6" x2="281.4" y2="68.49" stroke="#5e2a1c" stroke-width="1"/>
<line x1="295.4" y1="6.6" x2="295.4" y2="62.96" stroke="#5e2a1c" stroke-width="1.5"/>
<line x1="322.9" y1="6.6" x2="322.9" y2="57.45" stroke="#5e2a1c" stroke-width="1"/>
<line x1="327.4" y1="6.6" x2="327.4" y2="56.7" stroke="#5e2a1c" stroke-width="1"/>
<line x1="339.2" y1="6.6" x2="339.2" y2="54.64" stroke="#5e2a1c" stroke-width="1.8"/>
<line x1="346.2" y1="6.6" x2="346.2" y2="53.16" stroke="#5e2a1c" stroke-width="1"/>
<line x1="350.8" y1="6.6" x2="350.8" y2="52.25" stroke="#5e2a1c" stroke-width="1"/>
<line x1="362.7" y1="6.6" x2="362.7" y2="50.81" stroke="#5e2a1c" stroke-width="1"/>
<line x1="369.7" y1="6.6" x2="369.7" y2="49.76" stroke="#5e2a1c" stroke-width="1"/>
<line x1="376.9" y1="6.6" x2="376.9" y2="48.16" stroke="#42190f" stroke-width="1.6"/>
<line x1="380.3" y1="6.6" x2="380.3" y2="47.69" stroke="#5e2a1c" stroke-width="1"/>
<line x1="389.5" y1="6.6" x2="389.5" y2="46.67" stroke="#38140c" stroke-width="1.8"/>
<line x1="399.4" y1="6.6" x2="399.4" y2="45.72" stroke="#5e2a1c" stroke-width="1"/>
<line x1="402.1" y1="6.6" x2="402.1" y2="45.44" stroke="#5e2a1c" stroke-width="1"/>
<line x1="422.6" y1="6.6" x2="422.6" y2="43.26" stroke="#4a2014" stroke-width="1.6"/>
<line x1="425.4" y1="6.6" x2="425.4" y2="42.93" stroke="#4a2014" stroke-width="1.4"/>
<line x1="431" y1="6.6" x2="431" y2="42.21" stroke="#5e2a1c" stroke-width="1"/>
<line x1="270.9" y1="6.6" x2="270.9" y2="107" stroke="#d89a85" stroke-width="0.8"/>
<line x1="270.9" y1="6.6" x2="270.9" y2="78" stroke="#333" stroke-width="0.9"/>
<path d="M270.5,111 L270.5,108.9 L457.6,108.9" fill="none" stroke="#3a3a3a" stroke-width="1"/>
<line x1="457.8" y1="6" x2="457.8" y2="108.5" stroke="#e6e6e6" stroke-width="0.7"/>
<line x1="268.3" y1="6.6" x2="270.5" y2="6.6" stroke="#3a3a3a" stroke-width="0.8"/>
<text x="267.6" y="8.6" font-size="5.6" text-anchor="end" font-weight="bold" fill="#111" >0</text>
<line x1="268.3" y1="24.28" x2="270.5" y2="24.28" stroke="#3a3a3a" stroke-width="0.8"/>
<text x="267.6" y="26.28" font-size="5.6" text-anchor="end" font-weight="bold" fill="#111" >-1</text>
<line x1="268.3" y1="41.96" x2="270.5" y2="41.96" stroke="#3a3a3a" stroke-width="0.8"/>
<text x="267.6" y="43.96" font-size="5.6" text-anchor="end" font-weight="bold" fill="#111" >-2</text>
<line x1="268.3" y1="59.64" x2="270.5" y2="59.64" stroke="#3a3a3a" stroke-width="0.8"/>
<text x="267.6" y="61.64" font-size="5.6" text-anchor="end" font-weight="bold" fill="#111" >-3</text>
<line x1="268.3" y1="77.32" x2="270.5" y2="77.32" stroke="#3a3a3a" stroke-width="0.8"/>
<text x="267.6" y="79.32" font-size="5.6" text-anchor="end" font-weight="bold" fill="#111" >-4</text>
<line x1="268.3" y1="95" x2="270.5" y2="95" stroke="#3a3a3a" stroke-width="0.8"/>
<text x="267.6" y="97" font-size="5.6" text-anchor="end" font-weight="bold" fill="#111" >-5</text>
<text x="261.5" y="60" font-size="5.9" text-anchor="middle" font-weight="bold" fill="#111" transform="rotate(-90 261.5 60)">Z-Score</text>
<text x="270.8" y="114.5" font-size="5.4" text-anchor="middle" font-weight="bold" fill="#111" >1</text>
<line x1="270.5" y1="108.9" x2="270.5" y2="111" stroke="#3a3a3a" stroke-width="0.8"/>
<text x="346.4" y="114.5" font-size="5.4" text-anchor="middle" font-weight="bold" fill="#111" >100</text>
<line x1="346.1" y1="108.9" x2="346.1" y2="111" stroke="#3a3a3a" stroke-width="0.8"/>
<text x="421.9" y="114.5" font-size="5.4" text-anchor="middle" font-weight="bold" fill="#111" >200</text>
<line x1="421.6" y1="108.9" x2="421.6" y2="111" stroke="#3a3a3a" stroke-width="0.8"/>
<text x="272.5" y="82" font-size="4.8" text-anchor="middle" font-weight="bold" fill="#111" >1</text>
<text x="281.3" y="74" font-size="4.8" text-anchor="middle" font-weight="bold" fill="#111" >2</text>
<text x="294.5" y="68.5" font-size="4.8" text-anchor="middle" font-weight="bold" fill="#111" >3-4</text>
<text x="322" y="62.4" font-size="4.8" text-anchor="middle" font-weight="bold" fill="#111" >5</text>
<text x="327.2" y="62.4" font-size="4.8" text-anchor="middle" font-weight="bold" fill="#111" >6</text>
<text x="339" y="60" font-size="4.8" text-anchor="middle" font-weight="bold" fill="#111" >7-8</text>
<text x="346.2" y="58.3" font-size="4.8" text-anchor="middle" font-weight="bold" fill="#111" >9</text>
<text x="351.7" y="58" font-size="4.8" text-anchor="middle" font-weight="bold" fill="#111" >10</text>
<text x="362" y="57.3" font-size="4.8" text-anchor="middle" font-weight="bold" fill="#111" >11</text>
<text x="369.8" y="54.2" font-size="4.8" text-anchor="middle" font-weight="bold" fill="#111" >12</text>
<text x="379.3" y="56.3" font-size="4.8" text-anchor="middle" font-weight="bold" fill="#111" >13-16</text>
<text x="389.9" y="52.7" font-size="4.8" text-anchor="middle" font-weight="bold" fill="#111" >17-19</text>
<text x="402" y="54.2" font-size="4.8" text-anchor="middle" font-weight="bold" fill="#111" >20-21</text>
<text x="426.9" y="50.6" font-size="4.8" text-anchor="middle" font-weight="bold" fill="#111" >22-25</text>
<text x="461.6" y="12.2" font-size="5.6" text-anchor="start" font-weight="bold" fill="#111" >Gene</text>
<text x="461.6" y="21.6" font-size="5.6" text-anchor="start" font-weight="normal" fill="#151515" stroke="#151515" stroke-width="0.22">BNIPL (5, 15)</text>
<text x="461.6" y="28.9" font-size="5.6" text-anchor="start" font-weight="normal" fill="#151515" stroke="#151515" stroke-width="0.22">C7orf16 (10, 21)</text>
<text x="461.6" y="36.2" font-size="5.6" text-anchor="start" font-weight="normal" fill="#151515" stroke="#151515" stroke-width="0.22">CCRL1 (17, 23)</text>
<text x="461.6" y="43.5" font-size="5.6" text-anchor="start" font-weight="normal" fill="#151515" stroke="#151515" stroke-width="0.22">DGAT2 (12, 18)</text>
<text x="461.6" y="50.8" font-size="5.6" text-anchor="start" font-weight="normal" fill="#151515" stroke="#151515" stroke-width="0.22">DUSP14 (8, 13)</text>
<text x="461.6" y="58.1" font-size="5.6" text-anchor="start" font-weight="normal" fill="#151515" stroke="#151515" stroke-width="0.22">MAP3K6 (3, 25)</text>
<text x="461.6" y="65.4" font-size="5.6" text-anchor="start" font-weight="normal" fill="#151515" stroke="#151515" stroke-width="0.22">ROCK1 (9, 16, 22)</text>
<text x="461.6" y="72.7" font-size="5.6" text-anchor="start" font-weight="normal" fill="#151515" stroke="#151515" stroke-width="0.22">RPS13 (2, 14)</text>
<text x="461.6" y="80" font-size="5.6" text-anchor="start" font-weight="normal" fill="#151515" stroke="#151515" stroke-width="0.22">SF3A1 (6, 20)</text>
<text x="461.6" y="87.3" font-size="5.6" text-anchor="start" font-weight="normal" fill="#151515" stroke="#151515" stroke-width="0.22">SNX27 (1, 4)</text>
<text x="461.6" y="94.6" font-size="5.6" text-anchor="start" font-weight="normal" fill="#151515" stroke="#151515" stroke-width="0.22">STK3 (7, 24)</text>
<text x="461.6" y="101.9" font-size="5.6" text-anchor="start" font-weight="normal" fill="#151515" stroke="#151515" stroke-width="0.22">WDHD1 (11, 19)</text>
</svg></body></html>
